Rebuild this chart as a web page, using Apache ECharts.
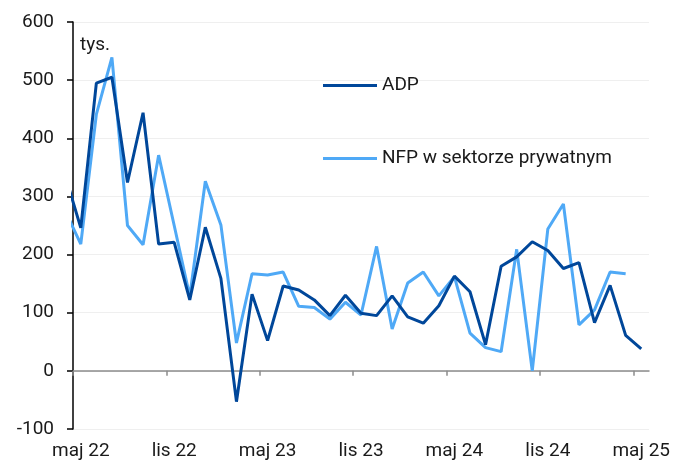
<!DOCTYPE html>
<html>
<head>
<meta charset="utf-8">
<script src="https://cdn.jsdelivr.net/npm/echarts@6/dist/echarts.min.js"></script>
<style>html,body{margin:0;padding:0;background:#fff}#c{width:673px;height:466px}</style>
</head>
<body>
<div id="c"></div>
<script>
// Months from kwi 22 (partly visible, clipped at the axis) to maj 25
const months = ["kwi 22","maj 22","cze 22","lip 22","sie 22","wrz 22","paź 22","lis 22","gru 22",
  "sty 23","lut 23","mar 23","kwi 23","maj 23","cze 23","lip 23","sie 23","wrz 23","paź 23","lis 23","gru 23",
  "sty 24","lut 24","mar 24","kwi 24","maj 24","cze 24","lip 24","sie 24","wrz 24","paź 24","lis 24","gru 24",
  "sty 25","lut 25","mar 25","kwi 25","maj 25"];
const adp = [336,246,495,505,324,444,218,221,122,247,159,-53,132,52,146,139,122,95,130,99,95,
  129,93,82,112,163,136,45,180,196,222,207,176,186,83,147,61,38];
const nfp = [275,218,441,539,250,217,371,250,128,326,251,48,167,165,170,111,109,89,118,96,214,
  72,151,170,129,162,65,40,33,209,0,244,287,79,105,170,167,null];
const yTicks = [-100,0,100,200,300,400,500,600];

const visible = months.slice(1);
const toPts = arr => arr.map((v,i)=>[i-1,v]).filter(p=>p[1]!==null);
// tick marks at the left boundary of every 6th month band
const tickBounds = visible.map((m,i)=>i).filter(i=>i%6===0);

const FONT = 'Roboto';
const chart = echarts.init(document.getElementById('c'));
chart.setOption({
  animation:false,
  grid:{left:73,right:21,top:22,bottom:37,containLabel:false},
  legend:{
    orient:'vertical', left:323, top:76, padding:0, itemGap:54, itemWidth:54, itemHeight:3, icon:'rect',
    textStyle:{fontFamily:FONT,fontSize:19,color:'#1a1a1a'},
    data:['ADP','NFP w sektorze prywatnym']
  },
  graphic:[{type:'text',left:80,top:36,style:{text:'tys.',fontFamily:FONT,fontSize:19,fill:'#1a1a1a'}}],
  xAxis:[
    {type:'category',data:visible,boundaryGap:true,position:'bottom',
      axisLine:{show:false,onZero:false},axisTick:{show:false},
      axisLabel:{interval:5,margin:13,fontFamily:FONT,fontSize:19,color:'#1a1a1a'},splitLine:{show:false}},
    {type:'value',min:0,max:visible.length,position:'bottom',
      axisLine:{show:true,onZero:true,lineStyle:{color:'#8c8c8c',width:1.5}},
      axisTick:{show:true,customValues:tickBounds,length:5,lineStyle:{color:'#8c8c8c',width:1.5}},
      axisLabel:{show:false},splitLine:{show:false}},
    {type:'value',min:-0.5,max:visible.length-0.5,show:false}
  ],
  yAxis:{type:'value',min:yTicks[0],max:yTicks[yTicks.length-1],interval:100,
    axisLine:{show:true,onZero:false,lineStyle:{color:'#000',width:1.5}},
    axisTick:{show:true,length:6,lineStyle:{color:'#000',width:1.5}},
    axisLabel:{margin:19,fontFamily:FONT,fontSize:19,color:'#1a1a1a'},
    splitLine:{show:true,lineStyle:{color:'#efefef',width:1}}},
  series:[
    {name:'ADP',type:'line',xAxisIndex:2,data:toPts(adp),symbol:'none',
      lineStyle:{color:'#00479a',width:3},itemStyle:{color:'#00479a'},z:3},
    {name:'NFP w sektorze prywatnym',type:'line',xAxisIndex:2,data:toPts(nfp),symbol:'none',
      lineStyle:{color:'#4fa9f6',width:3},itemStyle:{color:'#4fa9f6'},z:2}
  ]
});
</script>
</body>
</html>
